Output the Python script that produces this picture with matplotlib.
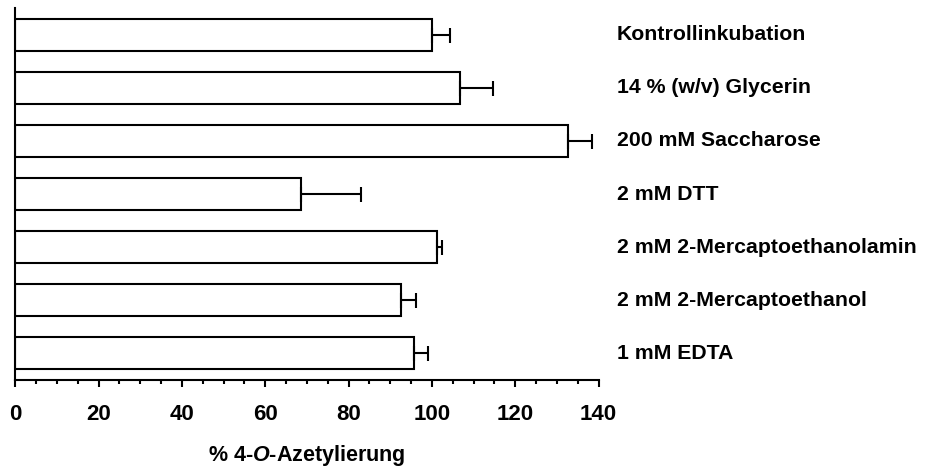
import numpy as np
import matplotlib.pyplot as plt
from matplotlib.ticker import MultipleLocator

plt.rcParams['font.family'] = ['Liberation Sans', 'DejaVu Sans']
plt.rcParams['font.weight'] = 'bold'
plt.rcParams['mathtext.fontset'] = 'custom'
plt.rcParams['mathtext.it'] = 'Liberation Sans:italic:bold'
plt.rcParams['mathtext.rm'] = 'Liberation Sans:bold'

# data, top to bottom as in the figure
conditions = [
    "Kontrollinkubation",
    "14 % (w/v) Glycerin",
    "200 mM Saccharose",
    "2 mM DTT",
    "2 mM 2-Mercaptoethanolamin",
    "2 mM 2-Mercaptoethanol",
    "1 mM EDTA",
]
acetylation = [100.1, 106.8, 132.7, 68.6, 101.1, 92.6, 95.6]
errors = [4.2, 7.9, 5.6, 14.3, 1.4, 3.5, 3.5]

n = len(conditions)
ypos = np.arange(n)[::-1]
lw = 1.5

fig = plt.figure(figsize=(9.41, 4.67), dpi=100)
ax = fig.add_axes([15.3 / 941, 87 / 467, 583.3 / 941, 372 / 467])

ax.barh(ypos, acetylation, height=0.6, color='white', edgecolor='black', linewidth=lw, zorder=2)
ax.errorbar(acetylation, ypos, xerr=[np.zeros(n), errors], fmt='none',
            ecolor='black', elinewidth=lw, capsize=5.4, capthick=lw, zorder=3)

for y, name in zip(ypos, conditions):
    ax.text(144.4, y, name, va='center', ha='left', fontsize=15.3, fontweight='bold', clip_on=False)

ax.set_xlim(0, 140)
ax.set_ylim(-0.5, n - 0.5)
ax.xaxis.set_major_locator(MultipleLocator(20))
ax.xaxis.set_minor_locator(MultipleLocator(5))
ax.tick_params(axis='x', which='major', length=5, width=lw, pad=12, labelsize=16)
ax.tick_params(axis='x', which='minor', length=3.2, width=lw)
ax.set_yticks([])
for lbl in ax.get_xticklabels():
    lbl.set_fontweight('bold')

ax.spines['top'].set_visible(False)
ax.spines['right'].set_visible(False)
ax.spines['left'].set_linewidth(lw)
ax.spines['bottom'].set_linewidth(lw)

ax.set_xlabel("% 4-$\\mathit{O}$-Azetylierung", fontsize=15.5, fontweight='bold', labelpad=13)

fig.savefig("out.png", dpi=100)
